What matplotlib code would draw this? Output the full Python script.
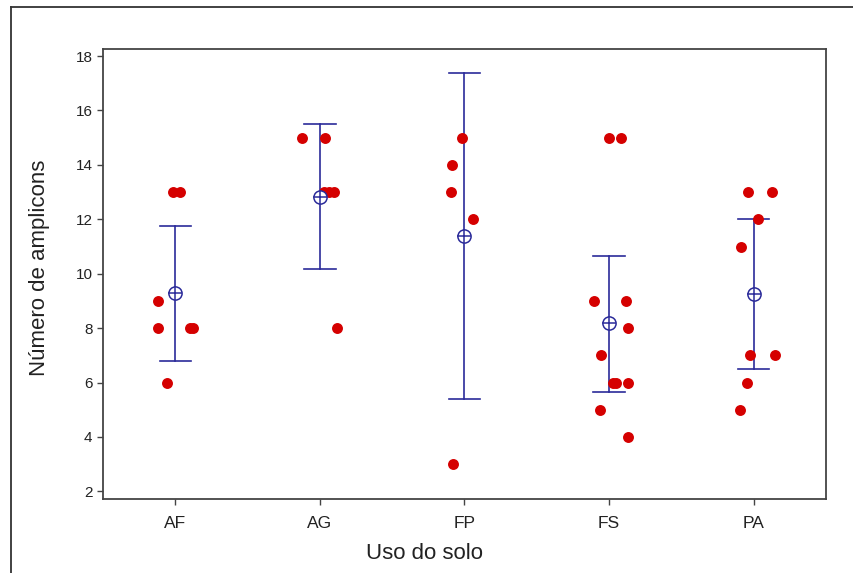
import matplotlib.pyplot as plt
from matplotlib.lines import Line2D

plt.rcParams['font.family'] = ['Liberation Sans', 'DejaVu Sans']

# dados por uso do solo
categorias = ["AF", "AG", "FP", "FS", "PA"]
valores = {
    "AF": [13, 13, 9, 8, 8, 8, 6],
    "AG": [15, 15, 13, 13, 13, 8],
    "FP": [15, 14, 13, 12, 3],
    "FS": [15, 15, 9, 9, 8, 7, 6, 6, 6, 5, 4],
    "PA": [13, 13, 12, 11, 7, 7, 6, 5],
}
# deslocamento horizontal (jitter), em pixels
jitter_px = {
    "AF": [-2, 5, -17, -17, 15, 18, -8],
    "AG": [-18, 5, 4, 9, 14, 17],
    "FP": [-2, -12, -13, 9, -11],
    "FS": [0, 12, -15, 17, 19, -8, 4, 7, 19, -9, 19],
    "PA": [-6, 18, 4, -13, -4, 21, -7, -14],
}
# intervalo de confiança (limites inferior e superior)
ic_inf = [6.80, 10.16, 5.40, 5.66, 6.49]
ic_sup = [11.75, 15.52, 17.38, 10.65, 12.00]

fig = plt.figure(figsize=(8.54, 5.73), dpi=100)
ax = fig.add_axes([0.1206, 0.1291, 0.8466, 0.7854])

px = 1 / 144.6
azul = "#2b2b9a"
for i, c in enumerate(categorias):
    x0 = i + 1
    xs = [x0 + j * px for j in jitter_px[c]]
    ax.scatter(xs, valores[c], s=62, color="#d50000", zorder=3, linewidths=0)
    media = sum(valores[c]) / len(valores[c])
    ax.plot([x0, x0], [ic_inf[i], ic_sup[i]], color=azul, lw=1.2, zorder=2)
    for y in (ic_inf[i], ic_sup[i]):
        ax.plot([x0 - 0.108, x0 + 0.108], [y, y], color=azul, lw=1.2, zorder=2)
    ax.plot(x0, media, marker="o", ms=9.5, mfc="white", mec=azul, mew=1.1, zorder=4)
    ax.plot(x0, media, marker="+", ms=9.5, color=azul, mew=1.1, zorder=5)

ax.set_xlim(0.5, 5.5)
ax.set_ylim(1.72, 18.26)
ax.set_xticks(range(1, 6))
ax.set_xticklabels(categorias)
ax.set_yticks(range(2, 19, 2))
ax.tick_params(length=4, width=1, color="#444444", labelcolor="#222222")
ax.tick_params(axis="x", labelsize=12.5, pad=8)
ax.tick_params(axis="y", labelsize=11)
for s in ax.spines.values():
    s.set_color("#444444")
    s.set_linewidth(1.3)

ax.set_xlabel("Uso do solo", fontsize=16, color="#222222")
ax.xaxis.set_label_coords(0.444, -0.098)
ax.set_ylabel("Número de amplicons", fontsize=16, color="#222222")
ax.yaxis.set_label_coords(-0.073, 0.514)

# moldura externa (só esquerda e topo visíveis)
fig.add_artist(Line2D([11 / 854, 11 / 854], [0, 1 - 7 / 573], color="#333333", lw=1.3))
fig.add_artist(Line2D([11 / 854, 1], [1 - 7 / 573, 1 - 7 / 573], color="#333333", lw=1.3))

fig.savefig("out.png", dpi=100)
